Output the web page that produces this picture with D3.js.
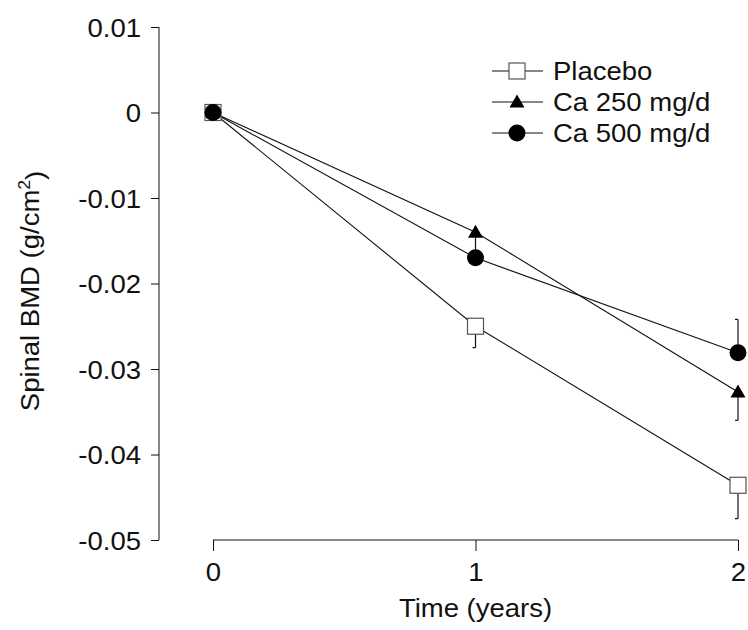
<!DOCTYPE html>
<html>
<head>
<meta charset="utf-8">
<script src="https://cdn.jsdelivr.net/npm/d3@7/dist/d3.min.js"></script>
<style>
    body { margin: 0; background: #fff; }
    text { font-family: "Liberation Sans", Arial, sans-serif; fill: #111; }
</style>
</head>
<body>
<script>
// time points (years)
var years = [0, 1, 2];
var seriesNames = ["Placebo", "Ca 250 mg/d", "Ca 500 mg/d"];
// mean change in spinal BMD (g/cm2)
var placebo = [0, -0.025, -0.0436];
var ca250 = [0, -0.014, -0.0327];
var ca500 = [0, -0.017, -0.0281];
// one-sided error bar end points (null = none drawn)
var placeboErr = [null, -0.0275, -0.0475];
var ca250Err = [null, -0.0168, -0.036];
var ca500Err = [null, null, -0.0242];
var yTicks = [0.01, 0, -0.01, -0.02, -0.03, -0.04, -0.05];
var xTicks = [0, 1, 2];

window.onload = function () {
    var width = 748, height = 630;
    var fs = "25px", sx = 1.1;   // the original lettering is a bit wide
    var svg = d3.select("body").append("svg")
        .attr("width", width)
        .attr("height", height);

    var x = d3.scaleLinear().domain([0, 2]).range([213, 738]);
    var y = d3.scaleLinear().domain([-0.05, 0.01]).range([540, 27]);

    // y axis
    var yAxis = d3.axisLeft(y)
        .tickValues(yTicks)
        .tickSize(8)
        .tickFormat(function (d) { return d === 0 ? "0" : d3.format(".2f")(d).replace("\u2212", "-"); });
    var gy = svg.append("g")
        .attr("transform", "translate(159,0)")
        .call(yAxis);
    gy.select(".domain").attr("d", "M0," + y(0.01) + "V" + y(-0.05)).attr("stroke", "#111");
    gy.selectAll(".tick line").attr("stroke", "#111");
    gy.selectAll("text")
        .style("font-size", fs)
        .attr("x", -18 / sx)
        .attr("dy", "0.36em")
        .attr("transform", "scale(" + sx + ",1)");

    // x axis
    var xAxis = d3.axisBottom(x)
        .tickValues(xTicks)
        .tickSize(11)
        .tickPadding(12)
        .tickFormat(d3.format("d"));
    var gx = svg.append("g")
        .attr("transform", "translate(0,540)")
        .call(xAxis);
    gx.select(".domain").attr("d", "M" + x(0) + ",0H" + x(2)).attr("stroke", "#111");
    gx.selectAll(".tick line").attr("stroke", "#111");
    gx.selectAll("text")
        .style("font-size", fs)
        .attr("transform", "scale(" + sx + ",1)");

    // axis titles
    svg.append("text")
        .attr("transform", "translate(" + x(1) + ",617) scale(" + sx + ",1)")
        .attr("text-anchor", "middle")
        .style("font-size", fs)
        .text("Time (years)");

    var yt = svg.append("text")
        .attr("transform", "translate(39,291) rotate(-90) scale(" + sx + ",1)")
        .attr("text-anchor", "middle")
        .style("font-size", fs);
    yt.append("tspan").text("Spinal BMD (g/cm");
    yt.append("tspan").attr("dy", "-0.55em").style("font-size", "16px").text("2");
    yt.append("tspan").attr("dy", "0.55em").text(")");

    var series = [
        { name: seriesNames[0], values: placebo, err: placeboErr, shape: "square" },
        { name: seriesNames[1], values: ca250, err: ca250Err, shape: "triangle" },
        { name: seriesNames[2], values: ca500, err: ca500Err, shape: "circle" }
    ];

    var line = d3.line()
        .x(function (d, i) { return x(years[i]); })
        .y(function (d) { return y(d); });

    // error bars
    series.forEach(function (s) {
        s.err.forEach(function (e, i) {
            if (e === null) return;
            var cx = x(years[i]);
            svg.append("line")
                .attr("x1", cx).attr("x2", cx)
                .attr("y1", y(s.values[i])).attr("y2", y(e))
                .attr("stroke", "#111").attr("stroke-width", 1.2);
            svg.append("line")
                .attr("x1", cx - 3).attr("x2", cx)
                .attr("y1", y(e)).attr("y2", y(e))
                .attr("stroke", "#111").attr("stroke-width", 1.2);
        });
    });

    // lines
    series.forEach(function (s) {
        svg.append("path")
            .datum(s.values)
            .attr("d", line)
            .attr("fill", "none")
            .attr("stroke", "#111")
            .attr("stroke-width", 1.1);
    });

    function drawMarker(g, shape, cx, cy) {
        if (shape === "square") {
            g.append("rect")
                .attr("x", cx - 8).attr("y", cy - 8)
                .attr("width", 16).attr("height", 16)
                .attr("fill", "#fff").attr("stroke", "#555").attr("stroke-width", 1.2);
        } else if (shape === "triangle") {
            g.append("path")
                .attr("d", "M" + cx + "," + (cy - 7.5) + "L" + (cx + 7.5) + "," + (cy + 5.5) + "L" + (cx - 7.5) + "," + (cy + 5.5) + "Z")
                .attr("fill", "#000");
        } else {
            g.append("circle")
                .attr("cx", cx).attr("cy", cy).attr("r", 8.5)
                .attr("fill", "#000");
        }
    }

    // markers
    series.forEach(function (s) {
        var g = svg.append("g");
        s.values.forEach(function (v, i) {
            drawMarker(g, s.shape, x(years[i]), y(v));
        });
    });

    // legend
    var legend = svg.append("g");
    series.forEach(function (s, i) {
        var ly = 71 + i * 31;
        legend.append("line")
            .attr("x1", 492).attr("x2", 543)
            .attr("y1", ly).attr("y2", ly)
            .attr("stroke", "#111").attr("stroke-width", 1.1);
        drawMarker(legend, s.shape, 517, ly);
        legend.append("text")
            .attr("transform", "translate(553," + ly + ") scale(" + sx + ",1)")
            .attr("dy", "0.36em")
            .style("font-size", fs)
            .text(s.name);
    });
};
</script>
</body>
</html>
